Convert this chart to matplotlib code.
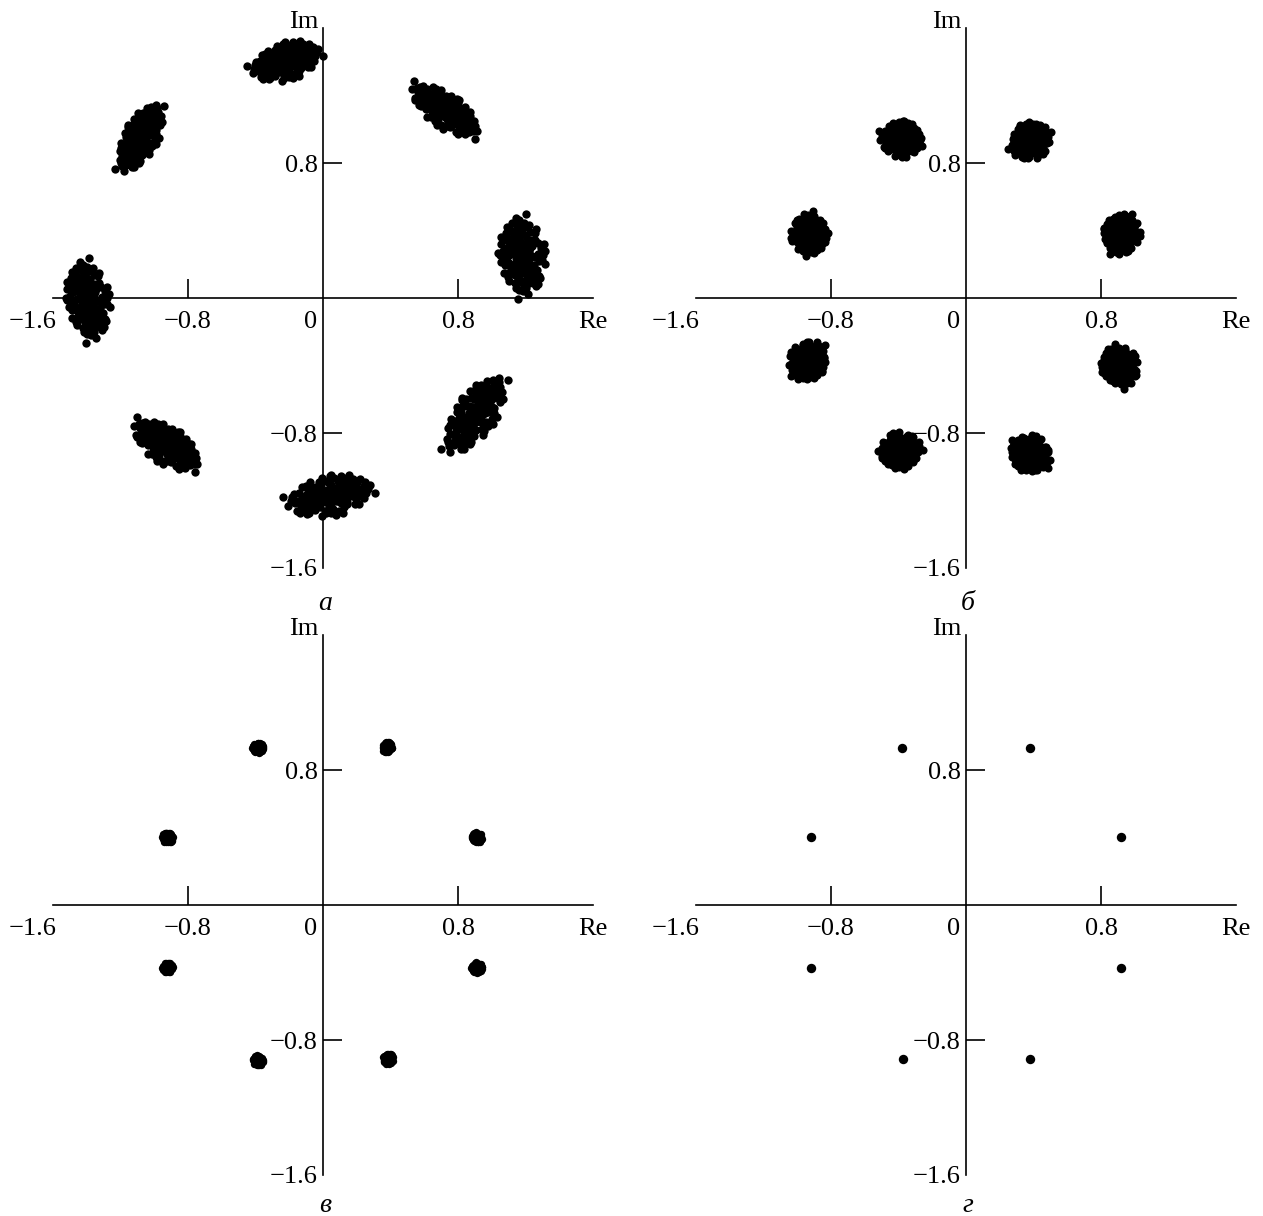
import numpy as np
import matplotlib
matplotlib.use("Agg")
import matplotlib.pyplot as plt
import matplotlib.transforms as mtransforms

# ---------------- data ----------------
# hand-read normalized scatter shapes of a noisy cluster (unit ~ cluster semi-axis)
cloud1_u = [0.00, 0.20, -0.15, 0.30, -0.25, 0.10, -0.05, 0.45, -0.45, 0.35, -0.35, 0.25, -0.30, 0.55,
            -0.55, 0.60, -0.60, 0.05, 0.00, 0.70, -0.70, 0.45, -0.40, 0.40, -0.45, 0.80, -0.80, 0.75,
            -0.75, 0.20, -0.20, 0.15, -0.20, 0.90, -0.92, 0.60, -0.62, 0.55, -0.55, 1.00, -1.00, 0.10,
            0.05, 0.85, -0.85, 0.85, -0.88, 0.15, -0.10, 0.05, -0.20, 0.25, -0.12, 0.38, -0.38, 0.12,
            -0.05, 0.50, -0.50, 0.30, -0.25, 0.30, -0.42, 0.65, -0.68, 0.68]
cloud1_v = [0.00, 0.10, 0.20, -0.15, -0.20, 0.35, -0.40, 0.05, 0.10, 0.30, 0.35, -0.45, -0.45, -0.25,
            -0.10, 0.25, 0.30, 0.60, -0.65, 0.00, 0.05, 0.55, 0.60, -0.60, -0.55, -0.20, -0.30, 0.40,
            0.45, 0.80, 0.78, -0.82, -0.80, 0.10, 0.00, -0.65, -0.60, 0.70, 0.72, -0.05, 0.15, 0.95,
            -0.98, -0.45, -0.50, 0.50, 0.45, 0.15, 0.05, -0.20, -0.05, 0.20, -0.25, -0.02, -0.08, -0.30,
            0.30, 0.15, 0.20, 0.48, 0.50, -0.32, -0.35, -0.45, -0.40, 0.58]
cloud2_u = [0.05, -0.10, 0.22, -0.28, 0.12, -0.18, 0.32, -0.35, 0.18, -0.08, 0.42, -0.48, 0.52, 0.08,
            -0.30, 0.28, -0.62, 0.62, -0.52, 0.48, -0.20, 0.30, 0.72, -0.72, 0.78, -0.78, 0.00, -0.05,
            0.92, -0.95, 0.95, -0.68, 0.40, -0.42, 0.70, -0.90, 1.08, -1.10, 0.25, -0.30, 0.15, -0.10,
            0.60, -0.65, 0.35, -0.38, 0.02, -0.22, 0.10, 0.40, -0.55, 0.58, -0.15, 0.82, -0.85, 1.15,
            -1.18]
cloud2_v = [0.10, -0.12, -0.05, 0.12, 0.28, 0.32, 0.22, -0.28, -0.35, -0.52, -0.30, 0.02, 0.08, 0.50,
            0.55, 0.62, -0.22, -0.12, 0.42, 0.40, -0.68, -0.70, 0.30, 0.20, -0.35, -0.12, 0.75, -0.85,
            -0.22, 0.32, 0.28, -0.62, 0.85, 0.85, -0.70, -0.40, 0.08, -0.05, -0.95, -0.92, 1.00, 0.92,
            0.80, 0.70, 0.05, 0.25, -0.30, 0.05, 0.40, -0.48, -0.40, 0.55, 0.62, 0.02, 0.10, -0.35,
            0.42]

# panel а: strongly distorted clusters (centre, semi-axes, tilt in degrees)
a_re    = [-0.22, -1.08, -1.39, -0.93, 0.04, 0.90, 1.18, 0.72]
a_im    = [1.40, 0.95, -0.01, -0.87, -1.17, -0.69, 0.25, 1.11]
a_major = [0.19, 0.20, 0.21, 0.20, 0.23, 0.24, 0.21, 0.21]
a_minor = [0.11, 0.10, 0.13, 0.11, 0.12, 0.12, 0.14, 0.10]
a_tilt  = [18, 62, 100, -33, 12, 55, 97, -35]

# panel б: round clusters
b_re     = [-0.385, 0.38, 0.92, 0.91, 0.38, -0.39, -0.94, -0.93]
b_im     = [0.94, 0.93, 0.38, -0.40, -0.92, -0.90, -0.37, 0.38]
b_spread = [0.11, 0.11, 0.11, 0.11, 0.11, 0.11, 0.11, 0.11]
b_tilt   = [0, 40, 80, 120, 160, 200, 240, 280]

# panel в: tight clusters
c_re     = [-0.385, 0.38, 0.91, 0.91, 0.385, -0.385, -0.92, -0.92]
c_im     = [0.93, 0.935, 0.40, -0.37, -0.91, -0.92, -0.37, 0.40]
c_spread = [0.033, 0.031, 0.031, 0.033, 0.031, 0.031, 0.031, 0.033]
c_tilt   = [10, 70, 130, 190, 250, 310, 30, 150]

# panel г: ideal constellation points
d_re = [-0.38, 0.38, 0.92, 0.92, 0.38, -0.37, -0.92, -0.92]
d_im = [0.93, 0.93, 0.40, -0.37, -0.91, -0.91, -0.37, 0.40]

captions = ["а", "б", "в", "г"]
x_ticks = [-0.8, 0.8]
y_ticks = [-0.8, 0.8]
tick_text = ["\u22120.8", "0.8"]
lim = 1.6

# ---------------- drawing ----------------
plt.rcParams["font.family"] = ["Liberation Serif", "DejaVu Serif"]
FS = 19
W, H = 1263, 1216
fig = plt.figure(figsize=(W / 100, H / 100), dpi=100)

scale = 169.0
half = lim * scale
origins = [(323, 298), (966, 298), (323, 905), (966, 905)]
caption_drop = [-42, -42, -37, -37]


def cluster_points(cx, cy, su, sv, tilt, clouds):
    u = np.concatenate([np.asarray(c[0]) for c in clouds])
    v = np.concatenate([np.asarray(c[1]) for c in clouds])
    t = np.deg2rad(tilt)
    x = cx + su * u * np.cos(t) - sv * v * np.sin(t)
    y = cy + su * u * np.sin(t) + sv * v * np.cos(t)
    return x, y


def px(ax, dx, dy):
    return mtransforms.offset_copy(ax.transData, fig=fig, x=dx, y=dy, units="dots")


axes = []
for (ox, oy) in origins:
    left = (ox - half) / W
    bottom = 1 - (oy + half) / H
    ax = fig.add_axes([left, bottom, 2 * half / W, 2 * half / H])
    ax.set_xlim(-lim, lim)
    ax.set_ylim(-lim, lim)
    ax.set_facecolor("none")
    for s in ["top", "right"]:
        ax.spines[s].set_visible(False)
    for s in ["left", "bottom"]:
        ax.spines[s].set_position(("data", 0))
        ax.spines[s].set_linewidth(1.2)
    ax.set_xticks(x_ticks)
    ax.set_yticks(y_ticks)
    ax.tick_params(direction="in", length=14, width=1.2, labelbottom=False, labelleft=False)
    # tick labels
    for xv, lab in zip(x_ticks, tick_text):
        ax.text(xv, 0, lab, transform=px(ax, 0, -30), ha="center", va="baseline", fontsize=FS)
    for yv, lab in zip(y_ticks, tick_text):
        ax.text(0, yv, lab, transform=px(ax, -5, -9), ha="right", va="baseline", fontsize=FS)
    ax.text(0, 0, "0", transform=px(ax, -6, -30), ha="right", va="baseline", fontsize=FS)
    ax.text(-lim, 0, "\u22121.6", transform=px(ax, 4, -30), ha="right", va="baseline", fontsize=FS)
    ax.text(lim, 0, "Re", transform=px(ax, -15, -30), ha="left", va="baseline", fontsize=FS)
    ax.text(0, -lim, "\u22121.6", transform=px(ax, -5, -8), ha="right", va="baseline", fontsize=FS)
    ax.text(0, lim, "Im", transform=px(ax, -5, 0), ha="right", va="baseline", fontsize=FS)
    axes.append(ax)

both = [(cloud1_u, cloud1_v), (cloud2_u, cloud2_v)]

# а
for i in range(len(a_re)):
    x, y = cluster_points(a_re[i], a_im[i], a_major[i], a_minor[i], a_tilt[i], both)
    axes[0].scatter(x, y, s=36, c="black", linewidths=0, clip_on=False, zorder=3)
# б
for i in range(len(b_re)):
    x, y = cluster_points(b_re[i], b_im[i], b_spread[i], b_spread[i], b_tilt[i], both)
    axes[1].scatter(x, y, s=34, c="black", linewidths=0, clip_on=False, zorder=3)
# в
for i in range(len(c_re)):
    x, y = cluster_points(c_re[i], c_im[i], c_spread[i], c_spread[i], c_tilt[i], [(cloud1_u, cloud1_v)])
    axes[2].scatter(x, y, s=28, c="black", linewidths=0, clip_on=False, zorder=3)
# г
axes[3].scatter(d_re, d_im, s=46, c="black", linewidths=0, clip_on=False, zorder=3)

for ax, cap, drop in zip(axes, captions, caption_drop):
    ax.text(0, -lim, cap, transform=px(ax, 2, drop), ha="center", va="baseline",
            fontsize=FS + 1, style="italic")

fig.savefig("out.png", dpi=100)
